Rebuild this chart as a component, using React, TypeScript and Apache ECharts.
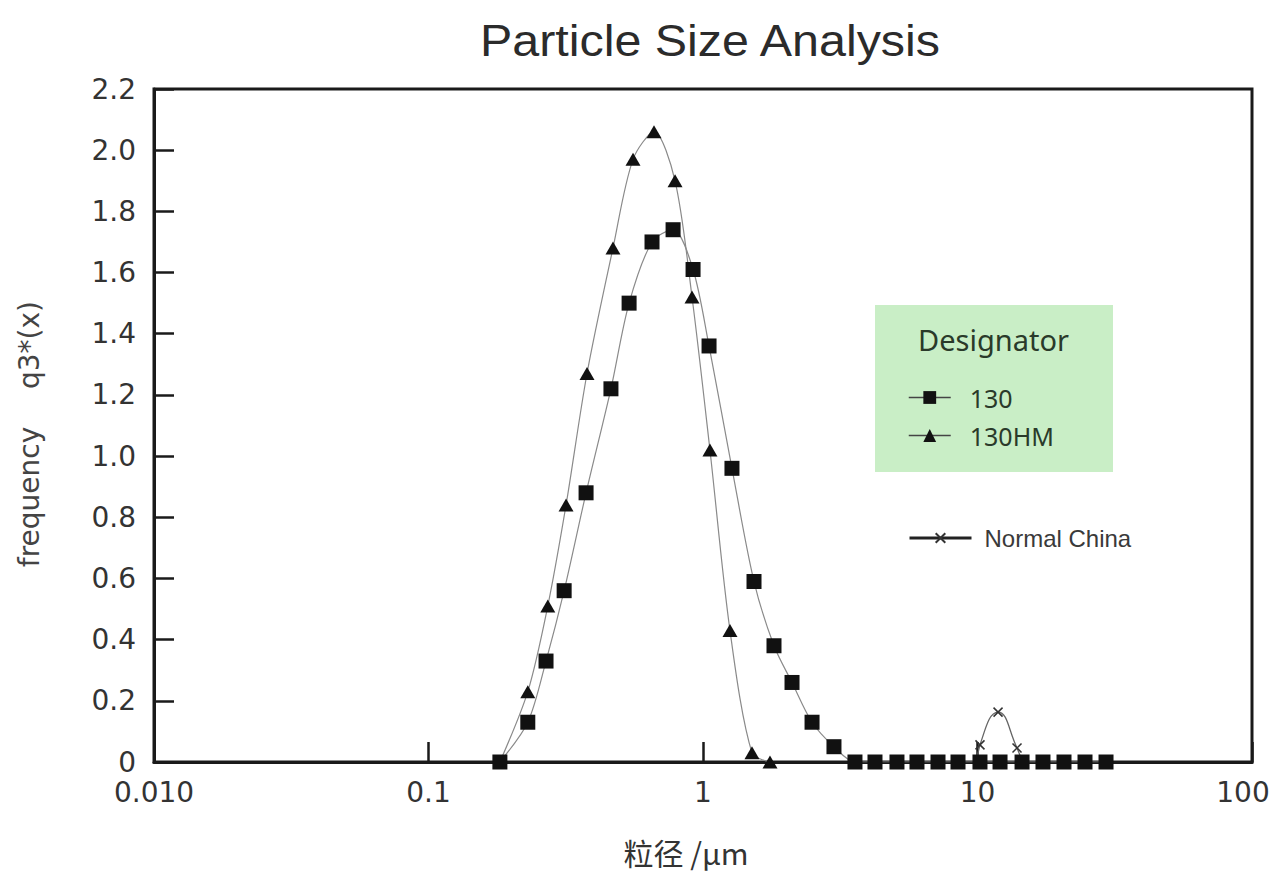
import React, { useEffect, useRef } from "react";
import * as echarts from "echarts";

// Particle size classes (µm) and frequency q3*(x)
const sizes130 = [0.182, 0.23, 0.268, 0.312, 0.375, 0.462, 0.538, 0.652, 0.778, 0.92, 1.052, 1.275, 1.534, 1.814, 2.11, 2.496, 3.0, 3.578, 4.232, 5.089, 6.019, 7.18, 8.492, 10.21, 12.08, 14.53, 17.32, 20.66, 24.64, 29.39];
const freq130 = [0, 0.13, 0.33, 0.56, 0.88, 1.22, 1.5, 1.7, 1.74, 1.61, 1.36, 0.96, 0.59, 0.38, 0.26, 0.13, 0.05, 0, 0, 0, 0, 0, 0, 0, 0, 0, 0, 0, 0, 0];

const sizes130HM = [0.182, 0.23, 0.272, 0.317, 0.378, 0.47, 0.556, 0.663, 0.791, 0.912, 1.06, 1.254, 1.508, 1.754];
const freq130HM = [0, 0.23, 0.51, 0.84, 1.27, 1.68, 1.97, 2.06, 1.9, 1.52, 1.02, 0.43, 0.03, 0];

const sizesNormalChina = [9.98, 10.21, 11.88, 13.93, 14.5];
const freqNormalChina = [0, 0.056, 0.163, 0.046, 0];

const xTickLabels: Record<string, string> = { "0.01": "0.010", "0.1": "0.1", "1": "1", "10": "10", "100": "{edge|100}" };

const TITLE = "Particle Size Analysis";
const X_NAME = "粒径 /μm";

export default function App() {
  const ref = useRef<HTMLDivElement>(null);

  useEffect(() => {
    if (!ref.current) return;
    const chart = echarts.init(ref.current, undefined, { renderer: "svg" });

    const pairs = (xs: number[], ys: number[], noSymbolEnds: boolean, firstOnly = false) =>
      xs.map((x, i) => {
        const isEnd = firstOnly ? i === 0 : i === 0 || i === xs.length - 1;
        return noSymbolEnds && isEnd ? { value: [x, ys[i]], symbol: "none" } : { value: [x, ys[i]] };
      });

    const xSymbol = "path://M0,0L10,10M10,0L0,10";

    chart.setOption({
      animation: false,
      backgroundColor: "#ffffff",
      grid: {
        left: 154,
        right: 20,
        top: 89,
        bottom: 111,
        containLabel: false,
        outerBoundsMode: "none",
        show: true,
        borderColor: "#1a1a1a",
        borderWidth: 3,
        backgroundColor: "transparent",
      },
      xAxis: {
        type: "log",
        logBase: 10,
        min: 0.01,
        max: 100,
        axisLine: { show: true, lineStyle: { color: "#1a1a1a", width: 3 } },
        axisTick: { show: true, inside: true, length: 20, lineStyle: { color: "#1a1a1a", width: 2.5 } },
        minorTick: { show: false },
        splitLine: { show: false },
        axisLabel: {
          margin: 16,
          fontFamily: "DejaVu Sans",
          fontSize: 28,
          color: "#333",
          formatter: (v: number) => {
            const key = String(Number(v.toPrecision(3)));
            return xTickLabels[key] ?? key;
          },
          rich: {
            edge: { fontFamily: "DejaVu Sans", fontSize: 28, color: "#333", padding: [0, 18, 0, 0] },
          },
        },
      },
      yAxis: {
        type: "value",
        min: 0,
        max: 2.2,
        interval: 0.2,
        axisLine: { show: true, lineStyle: { color: "#1a1a1a", width: 3 } },
        axisTick: { show: true, inside: true, length: 20, lineStyle: { color: "#1a1a1a", width: 2.5 } },
        splitLine: { show: false },
        axisLabel: {
          margin: 18,
          fontFamily: "DejaVu Sans",
          fontSize: 28,
          color: "#333",
          padding: [0, 0, 12, 0],
          formatter: (v: number) => (Math.abs(v) < 1e-9 ? "0" : v.toFixed(1)),
        },
      },
      legend: [
        {
          data: ["130", "130HM"],
          orient: "vertical",
          left: 903,
          top: 380,
          itemWidth: 42,
          itemHeight: 16,
          itemGap: 13,
          lineStyle: { color: "#444", width: 1.5 },
          textStyle: { fontFamily: "Noto Sans", fontSize: 25, color: "#2a3a2a", padding: [0, 0, 0, 14] },
        },
        {
          data: ["Normal China"],
          orient: "vertical",
          left: 903,
          top: 521,
          itemWidth: 62,
          itemHeight: 12,
          lineStyle: { color: "#222", width: 3 },
          textStyle: { fontFamily: "Liberation Sans", fontSize: 24, color: "#3a3a3a", padding: [0, 0, 0, 8] },
        },
      ],
      graphic: [
        {
          type: "rect",
          z: -1,
          shape: { x: 875, y: 305, width: 238, height: 167 },
          style: { fill: "#c9eec6" },
        },
        {
          type: "text",
          x: 918,
          y: 339,
          style: {
            text: "Designator",
            fontFamily: "Noto Sans",
            fontSize: 29,
            fill: "#2a3a2a",
            textAlign: "left",
            textVerticalAlign: "middle",
          },
        },
        {
          type: "text",
          x: 710,
          y: 41,
          scaleX: 1.1,
          style: {
            text: TITLE,
            fontFamily: "Liberation Sans",
            fontSize: 44,
            fill: "#2b2b2b",
            textAlign: "center",
            textVerticalAlign: "middle",
          },
        },
        {
          type: "text",
          x: 686,
          y: 852,
          style: {
            text: X_NAME,
            fontFamily: "Noto Sans CJK SC",
            fontSize: 30,
            fill: "#333",
            textAlign: "center",
            textVerticalAlign: "middle",
          },
        },
        {
          type: "text",
          x: 29,
          y: 497,
          rotation: Math.PI / 2,
          style: {
            text: "frequency",
            fontFamily: "DejaVu Sans",
            fontSize: 28,
            fill: "#444",
            textAlign: "center",
            textVerticalAlign: "middle",
          },
        },
        {
          type: "text",
          x: 29,
          y: 345,
          rotation: Math.PI / 2,
          style: {
            text: "q3*(x)",
            fontFamily: "DejaVu Sans",
            fontSize: 28,
            fill: "#444",
            textAlign: "center",
            textVerticalAlign: "middle",
          },
        },
      ],
      series: [
        {
          name: "Normal China",
          type: "line",
          data: pairs(sizesNormalChina, freqNormalChina, true),
          smooth: 0.5,
          symbol: xSymbol,
          symbolSize: 9,
          lineStyle: { color: "#666", width: 1.3 },
          itemStyle: { color: "rgba(0,0,0,0)", borderColor: "#333", borderWidth: 1.5 },
          z: 3,
        },
        {
          name: "130HM",
          type: "line",
          data: pairs(sizes130HM, freq130HM, true, true),
          smooth: 0.3,
          symbol: "triangle",
          symbolSize: [15, 13],
          lineStyle: { color: "#8a8a8a", width: 1.2 },
          itemStyle: { color: "#111" },
          z: 4,
        },
        {
          name: "130",
          type: "line",
          data: pairs(sizes130, freq130, false),
          smooth: 0.3,
          symbol: "rect",
          symbolSize: 15,
          lineStyle: { color: "#8a8a8a", width: 1.2 },
          itemStyle: { color: "#111" },
          z: 5,
        },
      ],
    });

    return () => chart.dispose();
  }, []);

  return <div ref={ref} style={{ position: "fixed", left: 0, top: 0, width: 1272, height: 873 }} />;
}
